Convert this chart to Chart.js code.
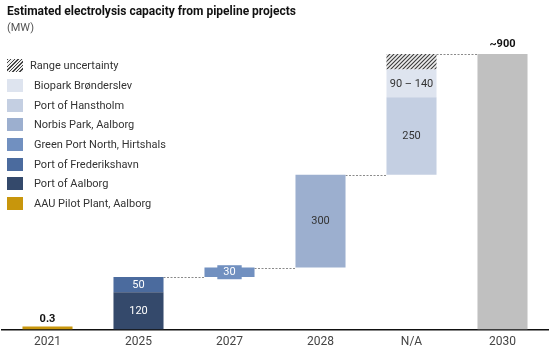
<!DOCTYPE html>
<html><head><meta charset="utf-8">
<script src="https://cdn.jsdelivr.net/npm/chart.js@4.4.1/dist/chart.umd.min.js"></script>
<style>
html,body{margin:0;padding:0;background:#fff;}
#wrap{position:relative;width:550px;height:352px;font-family:Roboto, "DejaVu Sans", sans-serif;}
#c{position:absolute;left:0;top:0;}
.title{position:absolute;left:7px;top:4px;font-family:Roboto, sans-serif;font-weight:bold;font-size:12px;color:#111;white-space:nowrap;}
.unit{position:absolute;left:7px;top:21px;font-size:11px;color:#555;}
#legend{position:absolute;left:7px;top:56px;}
.row{height:19.7px;display:flex;align-items:center;font-size:11px;color:#333;white-space:nowrap;}
.sw{width:16px;height:13px;margin-right:11px;flex:none;}
.hatch{background:repeating-linear-gradient(135deg,#444 0 1px,#eee 1px 2.5px);margin-right:7px;}
</style></head>
<body>
<div id="wrap">
<canvas id="c" width="550" height="352"></canvas>
<div class="title">Estimated electrolysis capacity from pipeline projects</div>
<div class="unit">(MW)</div>
<div id="legend"></div>
</div>
<script>
// ---- data ----
const categories = ['2021', '2025', '2027', '2028', 'N/A', '2030'];
const seriesNames = ['AAU Pilot Plant, Aalborg', 'Port of Aalborg', 'Port of Frederikshavn',
  'Green Port North, Hirtshals', 'Norbis Park, Aalborg', 'Port of Hanstholm', 'Biopark Brønderslev', 'Range uncertainty'];
const aauPilotPlant      = [0.3, null, null, null, null, null];
const portOfAalborg      = [null, 120, null, null, null, null];
const portOfFrederikshavn= [null, 50, null, null, null, null];
const greenPortNorth     = [null, null, 30, null, null, null];
const norbisPark         = [null, null, null, 300, null, null];
const portOfHanstholm    = [null, null, null, null, 250, null];
const bioparkLow         = [null, null, null, null, 90, null];
const rangeUncertainty   = [null, null, null, null, 50, null];
const total2030          = [null, null, null, null, null, 890];
const segmentLabels = {
  'AAU Pilot Plant, Aalborg': ['0.3'],
  'Port of Aalborg': ['120'],
  'Port of Frederikshavn': ['50'],
  'Green Port North, Hirtshals': ['30'],
  'Norbis Park, Aalborg': ['300'],
  'Port of Hanstholm': ['250'],
  'Biopark Brønderslev': ['90 – 140'],
  'Range uncertainty': [''],
  'Total': ['~900']
};
const colors = {
  'AAU Pilot Plant, Aalborg': '#c8960c',
  'Port of Aalborg': '#34496b',
  'Port of Frederikshavn': '#4b6b9e',
  'Green Port North, Hirtshals': '#7190c0',
  'Norbis Park, Aalborg': '#9cafcf',
  'Port of Hanstholm': '#c4cfe2',
  'Biopark Brønderslev': '#dee4ef',
  'Total': '#c0c0c0'
};

// hatch pattern
function makeHatch(){
  const p = document.createElement('canvas'); p.width = 4; p.height = 4;
  const g = p.getContext('2d');
  g.fillStyle = '#eeeeee'; g.fillRect(0,0,4,4);
  g.strokeStyle = '#3a3a3a'; g.lineWidth = 1.1;
  g.beginPath(); g.moveTo(0,4); g.lineTo(4,0); g.moveTo(-1,1); g.lineTo(1,-1); g.moveTo(3,5); g.lineTo(5,3); g.stroke();
  return document.getElementById('c').getContext('2d').createPattern(p,'repeat');
}
const hatch = makeHatch();

// build waterfall floating ranges
const stackSeries = [
  ['AAU Pilot Plant, Aalborg', aauPilotPlant],
  ['Port of Aalborg', portOfAalborg],
  ['Port of Frederikshavn', portOfFrederikshavn],
  ['Green Port North, Hirtshals', greenPortNorth],
  ['Norbis Park, Aalborg', norbisPark],
  ['Port of Hanstholm', portOfHanstholm],
  ['Biopark Brønderslev', bioparkLow],
  ['Range uncertainty', rangeUncertainty]
];
const ranges = stackSeries.map(() => categories.map(() => null));
let running = 0;
categories.forEach((c, i) => {
  stackSeries.forEach(([name, arr], s) => {
    if (arr[i] != null) { ranges[s][i] = [running, running + arr[i]]; running += arr[i]; }
  });
});
const datasets = stackSeries.map(([name], s) => ({
  label: name,
  data: ranges[s],
  backgroundColor: name === 'Range uncertainty' ? hatch : colors[name],
  grouped: false,
  minBarLength: name === 'AAU Pilot Plant, Aalborg' ? 3 : 0,
  _lbl: segmentLabels[name][0]
}));
datasets.push({
  label: 'Total',
  data: total2030.map(v => v == null ? null : [0, v]),
  backgroundColor: colors['Total'],
  grouped: false,
  _lbl: segmentLabels['Total'][0]
});

// legend (HTML)
const legendOrder = ['Range uncertainty', 'Biopark Brønderslev', 'Port of Hanstholm', 'Norbis Park, Aalborg',
  'Green Port North, Hirtshals', 'Port of Frederikshavn', 'Port of Aalborg', 'AAU Pilot Plant, Aalborg'];
const lg = document.getElementById('legend');
legendOrder.forEach(n => {
  const r = document.createElement('div'); r.className = 'row';
  const sw = document.createElement('div'); sw.className = 'sw' + (n === 'Range uncertainty' ? ' hatch' : '');
  if (n !== 'Range uncertainty') sw.style.background = colors[n];
  const t = document.createElement('span'); t.textContent = n;
  r.appendChild(sw); r.appendChild(t); lg.appendChild(r);
});

const connectors = {
  id: 'connectors',
  beforeDatasetsDraw(chart) {
    const ctx = chart.ctx, y = chart.scales.y;
    const tops = [], edges = [];
    categories.forEach((c, i) => {
      let top = null, el = null;
      chart.data.datasets.forEach((ds, d) => {
        const v = ds.data[i];
        if (v) { top = Math.max(top ?? -1, v[1]); el = chart.getDatasetMeta(d).data[i]; }
      });
      tops.push(top); edges.push(el);
    });
    ctx.save();
    ctx.strokeStyle = '#8a8a8a'; ctx.lineWidth = 1; ctx.setLineDash([2, 1.5]);
    for (let i = 1; i < categories.length - 1; i++) {
      const a = edges[i], b = edges[i + 1];
      const py = Math.round(y.getPixelForValue(tops[i])) + 0.5;
      ctx.beginPath();
      ctx.moveTo(a.x + a.width / 2, py);
      ctx.lineTo(b.x - b.width / 2, py);
      ctx.stroke();
    }
    ctx.restore();
  }
};

const labels = {
  id: 'labels',
  afterDatasetsDraw(chart) {
    const ctx = chart.ctx;
    ctx.save();
    ctx.textAlign = 'center'; ctx.textBaseline = 'middle';
    chart.data.datasets.forEach((ds, d) => {
      const meta = chart.getDatasetMeta(d);
      ds.data.forEach((v, i) => {
        if (!v || !ds._lbl) return;
        const el = meta.data[i];
        if (ds.label === 'AAU Pilot Plant, Aalborg' || ds.label === 'Total') {
          ctx.font = 'bold 11px Roboto';
          ctx.fillStyle = '#111';
          const off = ds.label === 'Total' ? 10 : 7;
          ctx.fillText(ds._lbl, el.x, Math.min(el.y, el.base) - off);
          return;
        }
        const cy = (el.y + el.base) / 2;
        ctx.font = '11px Roboto';
        if (ds.label === 'Green Port North, Hirtshals') {
          const w = ctx.measureText(ds._lbl).width + 12;
          ctx.fillStyle = ds.backgroundColor;
          ctx.fillRect(el.x - w / 2, cy - 7, w, 14);
        }
        const dark = ['Port of Aalborg', 'Port of Frederikshavn', 'Green Port North, Hirtshals'].includes(ds.label);
        ctx.fillStyle = dark ? '#ffffff' : '#333333';
        ctx.fillText(ds._lbl, el.x, cy + 0.5);
      });
    });
    ctx.restore();
  }
};

new Chart(document.getElementById('c'), {
  type: 'bar',
  data: { labels: categories, datasets },
  options: {
    responsive: false,
    animation: false,
    layout: { padding: { top: 20, left: 2, right: 2, bottom: -2 } },
    datasets: { bar: { barPercentage: 0.55, categoryPercentage: 1, borderWidth: 0 } },
    plugins: { legend: { display: false }, tooltip: { enabled: false } },
    scales: {
      x: {
        grid: { display: false, drawTicks: false },
        border: { display: true, color: '#111', width: 1.5 },
        ticks: { color: '#444', font: { family: 'Roboto', size: 12 }, padding: 5 }
      },
      y: { display: false, min: 0, max: 1000 }
    }
  },
  plugins: [connectors, labels]
});
</script>
</body></html>
